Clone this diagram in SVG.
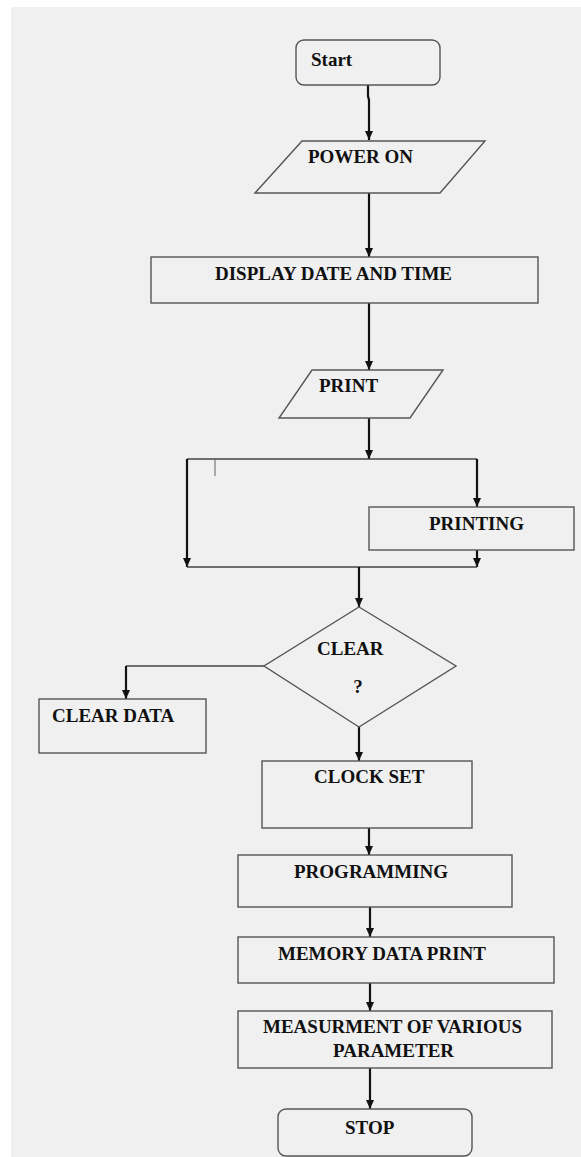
<svg xmlns="http://www.w3.org/2000/svg" width="581" height="1157" viewBox="0 0 581 1157">
<style>
.shape{fill:none;stroke:#555;stroke-width:1.4}
.conn{fill:none;stroke:#111;stroke-width:2.2}
.t{font-family:"Liberation Serif","Times New Roman",serif;font-weight:bold;font-size:19px;fill:#111}
</style>
<defs>
<marker id="ah" markerWidth="10" markerHeight="10" refX="9" refY="5" orient="auto" markerUnits="userSpaceOnUse">
<path d="M0,1 L9,5 L0,9 z" fill="#111"/>
</marker>
</defs>
<rect x="0" y="0" width="581" height="1157" fill="#ffffff"/>
<rect x="11" y="7" width="570" height="1150" fill="#f0f0f0"/>

<g id="connectors">
<path class="conn" d="M368,85 L368,96 L369,100 L369,140" marker-end="url(#ah)"/>
<path class="conn" d="M369,193 L369,257" marker-end="url(#ah)"/>
<path class="conn" d="M369,303 L369,370" marker-end="url(#ah)"/>
<path class="conn" d="M369,418 L369,459" marker-end="url(#ah)"/>
<path class="conn" d="M187,459 L477,459" style="stroke:#444;stroke-width:1.6"/>
<path d="M215,460 L215,476" style="stroke:#777;stroke-width:1.2"/>
<path class="conn" d="M187,459 L187,567" marker-end="url(#ah)"/>
<path class="conn" d="M477,459 L477,507" marker-end="url(#ah)"/>
<path class="conn" d="M477,550 L477,567" marker-end="url(#ah)"/>
<path class="conn" d="M187,567 L477,567" style="stroke:#444;stroke-width:1.6"/>
<path class="conn" d="M359,567 L359,607" marker-end="url(#ah)"/>
<path class="conn" d="M264,666 L126,666" style="stroke:#444;stroke-width:1.6"/>
<path class="conn" d="M126,666 L126,699" marker-end="url(#ah)"/>
<path class="conn" d="M359,727 L359,761" marker-end="url(#ah)"/>
<path class="conn" d="M369,828 L369,855" marker-end="url(#ah)"/>
<path class="conn" d="M370,907 L370,937" marker-end="url(#ah)"/>
<path class="conn" d="M370,983 L370,1011" marker-end="url(#ah)"/>
<path class="conn" d="M370,1068 L370,1109" marker-end="url(#ah)"/>
</g>

<g id="start">
<rect class="shape" x="296" y="40" width="144" height="45" rx="8"/>
<text class="t" x="311" y="66">Start</text>
</g>
<g id="power-on">
<polygon class="shape" points="302,141 485,141 440,193 255,193"/>
<text class="t" x="308" y="163">POWER ON</text>
</g>
<g id="display">
<rect class="shape" x="151" y="257" width="387" height="46"/>
<text class="t" x="215" y="280">DISPLAY DATE AND TIME</text>
</g>
<g id="print">
<polygon class="shape" points="312,370 443,370 410,418 279,418"/>
<text class="t" x="319" y="392">PRINT</text>
</g>
<g id="printing">
<rect class="shape" x="369" y="507" width="205" height="43"/>
<text class="t" x="429" y="530">PRINTING</text>
</g>
<g id="clear">
<polygon class="shape" points="359,607 456,666 359,727 264,666"/>
<text class="t" x="317" y="655">CLEAR</text>
<text class="t" x="358" y="693" text-anchor="middle">?</text>
</g>
<g id="clear-data">
<rect class="shape" x="39" y="699" width="167" height="54"/>
<text class="t" x="52" y="722">CLEAR DATA</text>
</g>
<g id="clock-set">
<rect class="shape" x="262" y="761" width="210" height="67"/>
<text class="t" x="314" y="783">CLOCK SET</text>
</g>
<g id="programming">
<rect class="shape" x="238" y="855" width="274" height="52"/>
<text class="t" x="294" y="878">PROGRAMMING</text>
</g>
<g id="memory">
<rect class="shape" x="238" y="937" width="316" height="46"/>
<text class="t" x="278" y="960">MEMORY DATA PRINT</text>
</g>
<g id="measurement">
<rect class="shape" x="238" y="1011" width="314" height="57"/>
<text class="t" x="263" y="1033">MEASURMENT OF VARIOUS</text>
<text class="t" x="333" y="1057">PARAMETER</text>
</g>
<g id="stop">
<rect class="shape" x="278" y="1109" width="194" height="47" rx="8"/>
<text class="t" x="345" y="1134">STOP</text>
</g>
</svg>
